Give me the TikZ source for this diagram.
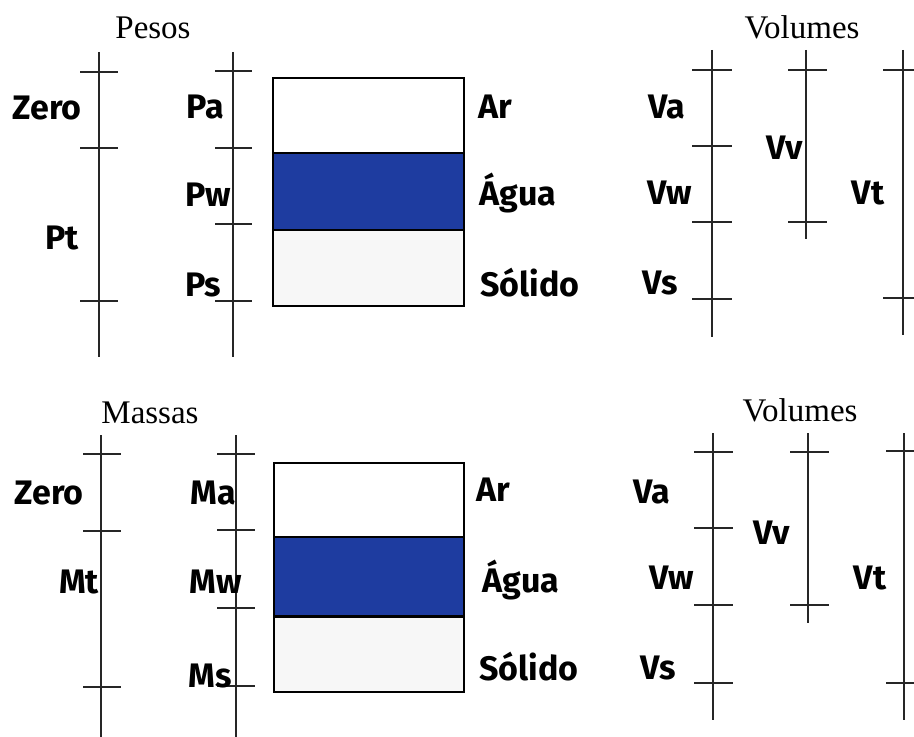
\documentclass[tikz,border=0pt]{standalone}
\usepackage{fontspec}
\setmainfont{Liberation Serif}
\newfontfamily\comicfont{Fira Sans}
\usepackage{xcolor}
\definecolor{agua}{RGB}{30,60,160}
\usepackage{tikz}
\usetikzlibrary{positioning}
\tikzstyle{eixo} = [line width=0.9pt, black!85]
\tikzstyle{marca} = [line width=0.9pt, black!85]
\tikzstyle{rotulo} = [font=\comicfont\bfseries\fontsize{17}{17}\selectfont, inner sep=0pt]
\tikzstyle{titulo} = [font=\fontsize{16.5}{16.5}\selectfont, inner sep=0pt]
\tikzstyle{camada} = [draw=black, line width=0.8pt]

\begin{document}
\begin{tikzpicture}[x=0.5pt,y=-0.5pt]
\useasboundingbox (0,0) rectangle (914,737);

% ---- pesos / volumes
\node[titulo] (pesos) at (153,28) {Pesos};
\draw[eixo] (99,52) -- (99,357);
\foreach \y in {72,148,301} \draw[marca] (80,\y) -- (118,\y);
\draw[eixo] (233,52) -- (233,357);
\foreach \y in {71,148,224,301} \draw[marca] (215,\y) -- (252,\y);

\node[camada, fill=white, minimum width=95.5pt, minimum height=37.5pt, inner sep=0pt, anchor=north west] (ar1) at (272,77) {};
\node[camada, fill=agua, minimum width=95.5pt, minimum height=38.5pt, inner sep=0pt, anchor=north west] (agua1) at (272,152) {};
\node[camada, fill=black!3, minimum width=95.5pt, minimum height=38pt, inner sep=0pt, anchor=north west] (solido1) at (272,229) {};

\node[rotulo] (zero1) at (47,108) {Zero};
\node[rotulo] (pt) at (62,238) {Pt};
\node[rotulo] (pa) at (205,107) {Pa};
\node[rotulo] (pw) at (208,195) {Pw};
\node[rotulo] (ps) at (203,285) {Ps};
\node[rotulo] (txar1) at (495,107) {Ar};
\node[rotulo] (txagua1) at (518,193) {Água};
\node[rotulo] (txsol1) at (530,283) {Sólido};

\node[titulo] (vol1) at (802,27) {Volumes};
\draw[eixo] (712,50) -- (712,337);
\foreach \y in {70,146,222,299} \draw[marca] (692,\y) -- (732,\y);
\draw[eixo] (806,50) -- (806,239);
\foreach \y in {70,222} \draw[marca] (788,\y) -- (827,\y);
\draw[eixo] (903,50) -- (903,335);
\foreach \y in {70,298} \draw[marca] (883,\y) -- (920,\y);
\node[rotulo] (va1) at (667,107) {Va};
\node[rotulo] (vw1) at (670,193) {Vw};
\node[rotulo] (vs1) at (660,283) {Vs};
\node[rotulo] (vv1) at (785,148) {Vv};
\node[rotulo] (vt1) at (868,193) {Vt};

% ---- massas / volumes
\node[titulo] (massas) at (150,413) {Massas};
\draw[eixo] (101,435) -- (101,740);
\foreach \y in {454,531,687} \draw[marca] (83,\y) -- (121,\y);
\draw[eixo] (236,435) -- (236,740);
\foreach \y in {454,530,608,686} \draw[marca] (217,\y) -- (255,\y);

\node[camada, fill=white, minimum width=95pt, minimum height=37pt, inner sep=0pt, anchor=north west] (ar2) at (273,462) {};
\node[camada, fill=agua, minimum width=95pt, minimum height=39.5pt, inner sep=0pt, anchor=north west] (agua2) at (273,536) {};
\node[camada, fill=black!3, minimum width=95pt, minimum height=38pt, inner sep=0pt, anchor=north west] (solido2) at (273,615) {};
\draw[line width=1.5pt] (agua2.south west) -- (agua2.south east);

\node[rotulo] (zero2) at (49,493) {Zero};
\node[rotulo] (mt) at (79,582) {Mt};
\node[rotulo] (ma) at (213,493) {Ma};
\node[rotulo] (mw) at (216,582) {Mw};
\node[rotulo] (ms) at (210,676) {Ms};
\node[rotulo] (txar2) at (493,490) {Ar};
\node[rotulo] (txagua2) at (521,580) {Água};
\node[rotulo] (txsol2) at (529,667) {Sólido};

\node[titulo] (vol2) at (800,410) {Volumes};
\draw[eixo] (713,433) -- (713,720);
\foreach \y in {452,528,605,683} \draw[marca] (694,\y) -- (733,\y);
\draw[eixo] (808,433) -- (808,623);
\foreach \y in {452,605} \draw[marca] (790,\y) -- (829,\y);
\draw[eixo] (904,433) -- (904,720);
\foreach \y in {451,683} \draw[marca] (886,\y) -- (920,\y);
\node[rotulo] (va2) at (652,492) {Va};
\node[rotulo] (vw2) at (672,578) {Vw};
\node[rotulo] (vs2) at (658,668) {Vs};
\node[rotulo] (vv2) at (772,533) {Vv};
\node[rotulo] (vt2) at (870,578) {Vt};
\end{tikzpicture}
\end{document}
